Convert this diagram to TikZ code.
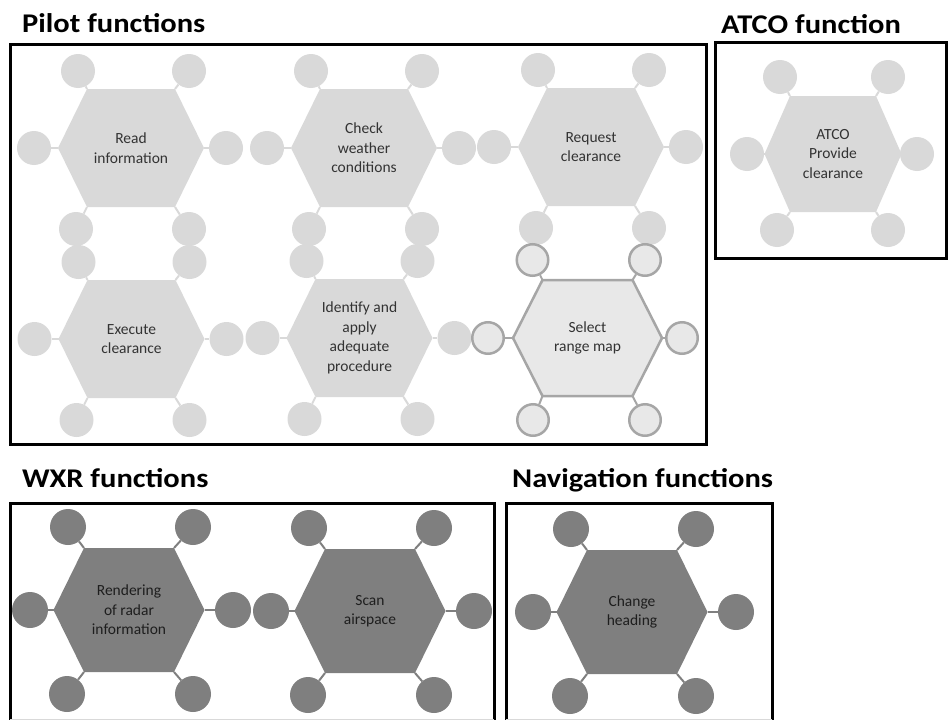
\documentclass[tikz,border=0pt]{standalone}
\usepackage{fontspec}
\setmainfont{Carlito}
\newfontfamily\titlefont[FakeStretch=1.13]{Carlito}
\definecolor{lightg}{HTML}{D9D9D9}
\definecolor{darkg}{HTML}{7F7F7F}
\definecolor{selfill}{HTML}{E8E8E8}
\definecolor{selline}{HTML}{A6A6A6}
\definecolor{txtl}{HTML}{333333}
\definecolor{txtd}{HTML}{1E1E1E}
\newcommand{\sethex}[4]{\def\HexW{#1}\def\HexT{#2}\def\HexH{#3}\def\DotR{#4}}
\newcommand{\setdots}[8]{\def\DTLx{#1}\def\DTRx{#2}\def\DLx{#3}\def\DRx{#4}\def\DBLx{#5}\def\DBRx{#6}\def\DTy{#7}\def\DBy{#8}}
\newcommand{\hexunit}[4]{%
\begin{scope}[shift={#2}]
 \coordinate (#1-vl) at (-\HexW,0);
 \coordinate (#1-vtl) at (-\HexT,-\HexH);
 \coordinate (#1-vtr) at (\HexT,-\HexH);
 \coordinate (#1-vr) at (\HexW,0);
 \coordinate (#1-vbr) at (\HexT,\HexH);
 \coordinate (#1-vbl) at (-\HexT,\HexH);
 \path[#3 hex] (#1-vl) -- (#1-vtl) -- (#1-vtr) -- (#1-vr) -- (#1-vbr) -- (#1-vbl) -- cycle;
 \node[#3 dot] (#1-ctl) at (\DTLx,\DTy) {};
 \node[#3 dot] (#1-ctr) at (\DTRx,\DTy) {};
 \node[#3 dot] (#1-cl) at (\DLx,0) {};
 \node[#3 dot] (#1-cr) at (\DRx,0) {};
 \node[#3 dot] (#1-cbl) at (\DBLx,\DBy) {};
 \node[#3 dot] (#1-cbr) at (\DBRx,\DBy) {};
 \draw[#3 stub] (#1-vtl) -- (#1-ctl);
 \draw[#3 stub] (#1-vtr) -- (#1-ctr);
 \draw[#3 stub] (#1-vl) -- (#1-cl);
 \draw[#3 stub] (#1-vr) -- (#1-cr);
 \draw[#3 stub] (#1-vbl) -- (#1-cbl);
 \draw[#3 stub] (#1-vbr) -- (#1-cbr);
 \node[#3 label] (#1-t) at (0,0) {#4};
\end{scope}}
\begin{document}
\begin{tikzpicture}[x=1pt,y=-1pt,
  light hex/.style={fill=lightg},
  light dot/.style={circle,fill=lightg,inner sep=0pt,minimum size=2*\DotR pt},
  light stub/.style={draw=lightg,line width=2pt},
  light label/.style={text=txtl,font=\fontsize{15.5}{19.5}\selectfont,align=center},
  dark hex/.style={fill=darkg},
  dark dot/.style={circle,fill=darkg,inner sep=0pt,minimum size=2*\DotR pt},
  dark stub/.style={draw=darkg,line width=2pt},
  dark label/.style={text=txtd,font=\fontsize{15.5}{19.5}\selectfont,align=center},
  sel hex/.style={fill=selfill,draw=selline,line width=2.5pt,line join=round},
  sel dot/.style={circle,fill=selfill,draw=selline,line width=2.5pt,inner sep=0pt,minimum size=2*\DotR pt-2.5pt},
  sel stub/.style={draw=selline,line width=2pt},
  sel label/.style={text=txtl,font=\fontsize{15.5}{19.5}\selectfont,align=center},
  frame/.style={draw=black,line width=3pt},
  title/.style={font=\titlefont\fontsize{27}{30}\selectfont\bfseries,anchor=base west,inner sep=0pt,text=black}]
\useasboundingbox (0,0) rectangle (948,720);

% titles
\node[title] (tpilot) at (22,32) {Pilot functions};
\node[title] (tatco) at (721,34) {ATCO function};
\node[title] (twxr) at (22,487) {WXR functions};
\node[title] (tnav) at (512,487) {Navigation functions};

% frames
\draw[frame] (10,44) rectangle (706,444);
\draw[frame] (715,42) rectangle (946.5,258);
\draw[frame] (494,720) -- (494,503) -- (10,503) -- (10,720);
\draw[frame] (772,720) -- (772,503) -- (506,503) -- (506,720);
\draw[lightg,line width=1pt] (10,719.5) -- (494,719.5);
\draw[lightg,line width=1pt] (506,719.5) -- (772,719.5);

% pilot functions
\sethex{73}{44}{59}{17}\setdots{-53}{58}{-97}{95}{-55}{58}{-77}{81}
\hexunit{read}{(131,148)}{light}{Read\\information}
\hexunit{check}{(364,148)}{light}{Check\\weather\\conditions}
\hexunit{req}{(591,147)}{light}{Request\\clearance}
\hexunit{exec}{(131.5,339)}{light}{Execute\\clearance}
\hexunit{ident}{(359.5,338)}{light}{Identify and\\apply\\adequate\\procedure}
\sethex{74.5}{45}{58}{17}\setdots{-55}{57.5}{-99.5}{94.5}{-54.5}{57.5}{-78}{82}
\hexunit{sel}{(587.5,338)}{sel}{Select\\range map}

% ATCO
\sethex{68.5}{43}{58}{17}\setdots{-53}{55}{-86}{84}{-56}{55}{-77}{76}
\hexunit{atco}{(833,154)}{light}{ATCO\\Provide\\clearance}

% WXR and navigation
\sethex{75.5}{45}{62}{18}\setdots{-61}{64}{-99}{104}{-62}{64}{-83}{84}
\hexunit{rend}{(129,610)}{dark}{Rendering\\of radar\\information}
\hexunit{scan}{(370,611)}{dark}{Scan\\airspace}
\hexunit{chg}{(632,612)}{dark}{Change\\heading}
\end{tikzpicture}
\end{document}
